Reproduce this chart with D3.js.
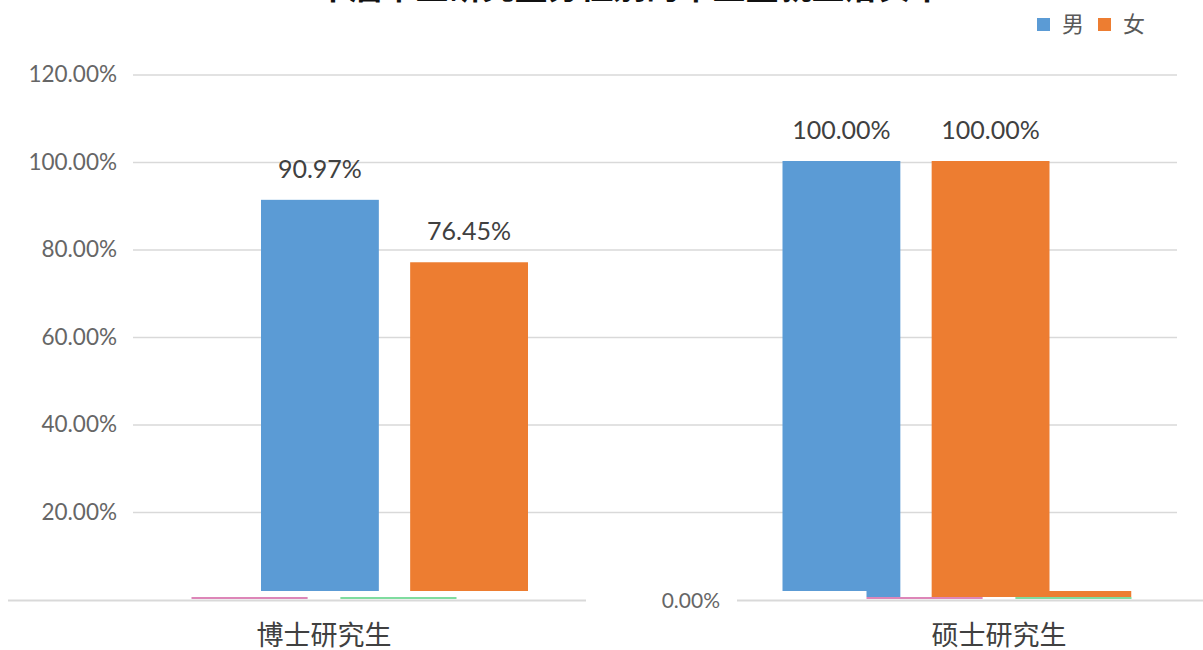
<!DOCTYPE html>
<html>
<head>
<meta charset="utf-8">
<script src="https://cdn.jsdelivr.net/npm/d3@7"></script>
<style>
  body { margin: 0; background: #fff; }
  svg { display: block; }
</style>
</head>
<body>
<div id="chart"></div>
<script>
(function() {
  // data
  var categories = ['博士研究生', '硕士研究生']
  var seriesNames = ['男', '女']
  var maleRates = [0.9097, 1.0]
  var femaleRates = [0.7645, 1.0]
  var yTicks = [0, 0.2, 0.4, 0.6, 0.8, 1.0, 1.2]
  // the second (underlying) layer that peeks out below the bars
  var lowerMale = [0, 0]
  var lowerFemale = [0, 1.0]
  var title = '本届毕业研究生分性别的毕业生就业落实率'

  var colors = { '男': '#5b9bd5', '女': '#ed7d31' }
  var edgeColors = { '男': '#dd86b8', '女': '#7fdc9f' }

  var width = 1203
  var height = 650

  var svg = d3.select('#chart')
    .append('svg')
    .attr('width', width)
    .attr('height', height)

  var fontNum = 'Lato, "Open Sans", sans-serif'
  var fontCjk = '"Noto Sans CJK SC", "Noto Sans", sans-serif'

  // scales for the main plot
  var yGrid = d3.scaleLinear().domain([0, 1.2]).range([600, 75])
  var yBar = d3.scaleLinear().domain([0, 1.2]).range([591, 75])

  var x0 = d3.scaleBand().domain(categories).range([134, 1177])
  var x1 = d3.scaleBand().domain(seriesNames)
    .range([127, 394]).paddingInner(0.21)

  // scales for the lower layer (and category labels)
  var xs0 = d3.scaleBand().domain(categories).range([-13.5, 1336.5])
  var xs1 = d3.scaleBand().domain(seriesNames)
    .range([205, 470]).paddingInner(0.22)
  var yLow = d3.scaleLinear().domain([0, 1.2]).range([598, 80])

  // title, mostly cut off at the top edge
  svg.append('text')
    .text(title)
    .attr('x', 630)
    .attr('y', -1)
    .attr('text-anchor', 'middle')
    .attr('font-family', fontCjk)
    .attr('font-weight', 'bold')
    .attr('font-size', 33)
    .attr('fill', '#111')

  // gridlines
  svg.append('g')
    .selectAll('line')
    .data(yTicks.filter(d => d > 0))
    .enter().append('line')
    .attr('x1', 133)
    .attr('x2', 1177)
    .attr('y1', d => yGrid(d))
    .attr('y2', d => yGrid(d))
    .attr('stroke', '#d9d9d9')
    .attr('stroke-width', 1.5)

  // y tick labels
  svg.append('g')
    .selectAll('text')
    .data(yTicks.filter(d => d > 0))
    .enter().append('text')
    .text(d => (d * 100).toFixed(2) + '%')
    .attr('x', 117)
    .attr('y', d => yGrid(d) + 7)
    .attr('text-anchor', 'end')
    .attr('font-family', fontNum)
    .attr('font-size', 22.5)
    .attr('fill', '#666')

  // lower layer strip
  var lowerData = []
  categories.forEach((c, i) => {
    lowerData.push({ cat: c, s: '男', v: lowerMale[i] })
    lowerData.push({ cat: c, s: '女', v: lowerFemale[i] })
  })
  var lowerCats = categories.filter((c, i) => lowerMale[i] > 0 || lowerFemale[i] > 0)

  svg.append('clipPath')
    .attr('id', 'strip')
    .selectAll('rect')
    .data(lowerCats)
    .enter().append('rect')
    .attr('x', d => xs0(d) + xs1(seriesNames[0]))
    .attr('width', d => xs1(seriesNames[1]) - xs1(seriesNames[0]) + xs1.bandwidth())
    .attr('y', yBar(0))
    .attr('height', yLow(0) - yBar(0) - 1)

  var strip = svg.append('g')
    .attr('clip-path', 'url(#strip)')

  strip.selectAll('rect.low')
    .data(lowerData.filter(d => d.v > 0))
    .enter().append('rect')
    .attr('class', 'low')
    .attr('x', d => xs0(d.cat) + xs1(d.s))
    .attr('width', xs1.bandwidth())
    .attr('y', d => yLow(d.v))
    .attr('height', d => yLow(0) - yLow(d.v))
    .attr('fill', d => colors[d.s])

  svg.append('g')
    .selectAll('line')
    .data(lowerData)
    .enter().append('line')
    .attr('x1', d => xs0(d.cat) + xs1(d.s))
    .attr('x2', d => xs0(d.cat) + xs1(d.s) + xs1.bandwidth())
    .attr('y1', yLow(0))
    .attr('y2', yLow(0))
    .attr('stroke', d => edgeColors[d.s])
    .attr('stroke-width', 2)

  // zero axis line
  svg.append('line')
    .attr('x1', 8)
    .attr('x2', width)
    .attr('y1', yGrid(0) + 0.5)
    .attr('y2', yGrid(0) + 0.5)
    .attr('stroke', '#d9d9d9')
    .attr('stroke-width', 2)

  // stray zero label of the lower layer
  svg.append('rect')
    .attr('x', 586)
    .attr('y', yGrid(0) - 4)
    .attr('width', 151)
    .attr('height', 8)
    .attr('fill', '#fff')
  svg.append('text')
    .text('0.00%')
    .attr('x', 720)
    .attr('y', yGrid(0) + 8)
    .attr('text-anchor', 'end')
    .attr('font-family', fontNum)
    .attr('font-size', 21)
    .attr('fill', '#666')

  // main bars
  var barData = []
  categories.forEach((c, i) => {
    barData.push({ cat: c, s: '男', v: maleRates[i] })
    barData.push({ cat: c, s: '女', v: femaleRates[i] })
  })

  svg.append('g')
    .selectAll('rect')
    .data(barData)
    .enter().append('rect')
    .attr('x', d => x0(d.cat) + x1(d.s))
    .attr('width', x1.bandwidth())
    .attr('y', d => yBar(d.v))
    .attr('height', d => yBar(0) - yBar(d.v))
    .attr('fill', d => colors[d.s])

  // the same bars seen through the strip below the baseline
  strip.selectAll('rect.main')
    .data(barData)
    .enter().append('rect')
    .attr('class', 'main')
    .attr('x', d => x0(d.cat) + x1(d.s))
    .attr('width', x1.bandwidth())
    .attr('y', d => yBar(d.v))
    .attr('height', d => yLow(0) - yBar(d.v))
    .attr('fill', d => colors[d.s])

  // value labels
  svg.append('g')
    .selectAll('text')
    .data(barData)
    .enter().append('text')
    .text(d => (d.v * 100).toFixed(2) + '%')
    .attr('x', d => x0(d.cat) + x1(d.s) + x1.bandwidth() / 2)
    .attr('y', d => yBar(d.v) - 22)
    .attr('text-anchor', 'middle')
    .attr('font-family', fontNum)
    .attr('font-size', 25)
    .attr('fill', '#404040')

  // category labels
  svg.append('g')
    .selectAll('text')
    .data(categories)
    .enter().append('text')
    .text(d => d)
    .attr('x', d => xs0(d) + xs0.bandwidth() / 2)
    .attr('y', 645)
    .attr('text-anchor', 'middle')
    .attr('font-family', fontCjk)
    .attr('font-size', 27)
    .attr('fill', '#404040')

  // legend
  var legend = svg.append('g')
    .attr('transform', 'translate(1037,18)')
  var items = legend.selectAll('g')
    .data(seriesNames)
    .enter().append('g')
    .attr('transform', (d, i) => `translate(${i * 61},0)`)
  items.append('rect')
    .attr('width', 13)
    .attr('height', 13)
    .attr('fill', d => colors[d])
  items.append('text')
    .text(d => d)
    .attr('x', 25)
    .attr('y', 14)
    .attr('font-family', fontCjk)
    .attr('font-size', 22)
    .attr('fill', '#595959')
})()
</script>
</body>
</html>
